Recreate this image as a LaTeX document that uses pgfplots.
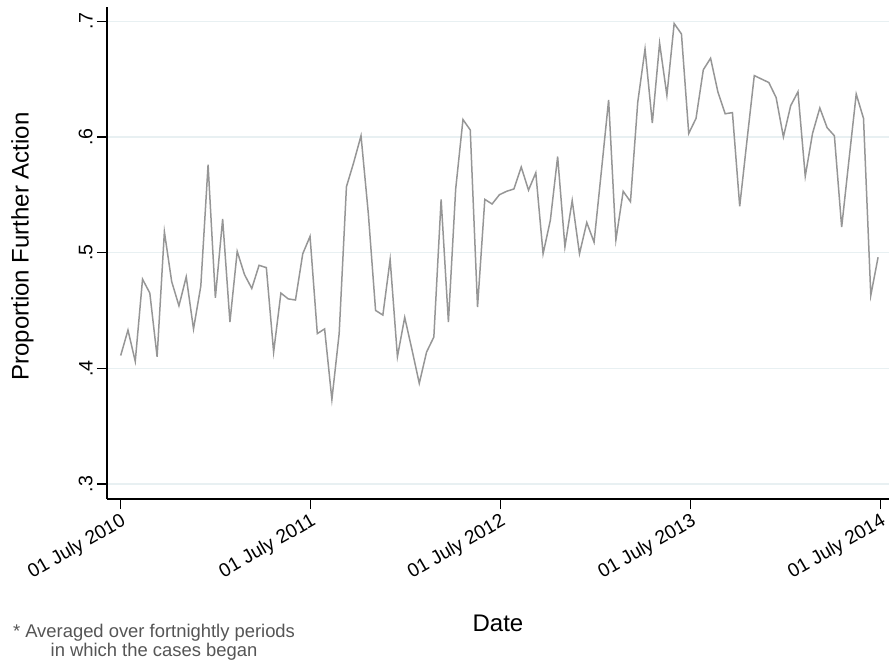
\documentclass[border=0pt]{standalone}
\usepackage{fontspec}
\setmainfont{Liberation Sans}
\usepackage{pgfplots}
\pgfplotsset{compat=1.18}
\definecolor{linegray}{RGB}{150,150,150}
\definecolor{gridc}{RGB}{232,240,242}
\definecolor{notegray}{RGB}{85,85,85}
\begin{document}
\begin{tikzpicture}
\useasboundingbox (0,0) rectangle (444.5pt,332pt);
\begin{axis}[
  at={(53.5pt,82.5pt)}, anchor=south west,
  scale only axis, width=391pt, height=246pt,
  xmin=-1.88, xmax=105.5, ymin=0.287, ymax=0.7123,
  axis x line*=bottom, axis y line*=left,
  axis line style={black, line width=0.6pt},
  tick align=outside, major tick length=5pt,
  tick style={black, line width=0.6pt},
  xtick={0,26.071,52.143,78.286,104.357},
  xticklabels={01 July 2010,01 July 2011,01 July 2012,01 July 2013,01 July 2014},
  xticklabel style={rotate=30, anchor=north east, inner sep=1pt, font=\fontsize{9.6}{11}\selectfont},
  ytick={0.3,0.4,0.5,0.6,0.7},
  yticklabels={.3,.4,.5,.6,.7},
  yticklabel style={rotate=90, anchor=south, inner sep=2pt, font=\fontsize{9.8}{11}\selectfont},
  /pgf/number format/assume math mode=true,
  ymajorgrids, major grid style={gridc, line width=0.6pt},
  xlabel={Date},
  xlabel style={at={(axis description cs:0.5,-0.252)}, anchor=center, font=\fontsize{12}{14}\selectfont},
  ylabel={Proportion Further Action},
  ylabel style={at={(axis description cs:-0.108,0.513)}, anchor=center, rotate=0, font=\fontsize{12}{14}\selectfont},
  clip=false,
]
\addplot[linegray, line width=0.75pt, mark=none] table {
x y
0 0.411
1 0.433
2 0.406
3 0.477
4 0.465
5 0.410
6 0.518
7 0.475
8 0.454
9 0.479
10 0.434
11 0.471
12 0.576
13 0.461
14 0.529
15 0.440
16 0.501
17 0.481
18 0.469
19 0.489
20 0.487
21 0.414
22 0.465
23 0.460
24 0.459
25 0.499
26 0.514
27 0.430
28 0.434
29 0.373
30 0.430
31 0.557
32 0.578
33 0.601
34 0.534
35 0.450
36 0.446
37 0.494
38 0.410
39 0.444
40 0.416
41 0.387
42 0.414
43 0.427
44 0.546
45 0.440
46 0.555
47 0.615
48 0.606
49 0.453
50 0.546
51 0.542
52 0.550
53 0.553
54 0.555
55 0.574
56 0.554
57 0.569
58 0.499
59 0.528
60 0.583
61 0.505
62 0.545
63 0.499
64 0.526
65 0.509
66 0.570
67 0.632
68 0.511
69 0.553
70 0.544
71 0.630
72 0.676
73 0.612
74 0.681
75 0.636
76 0.698
77 0.689
78 0.603
79 0.616
80 0.658
81 0.668
82 0.639
83 0.620
84 0.621
85 0.540
86 0.597
87 0.653
88 0.650
89 0.647
90 0.634
91 0.600
92 0.627
93 0.639
94 0.566
95 0.603
96 0.625
97 0.608
98 0.601
99 0.522
100 0.580
101 0.637
102 0.616
103 0.463
104 0.496
};
\end{axis}
\node[align=center, text=notegray, font=\fontsize{9.2}{9.5}\selectfont, inner sep=0pt] at (77pt,10.75pt) {* Averaged over fortnightly periods\\in which the cases began};
\end{tikzpicture}
\end{document}
